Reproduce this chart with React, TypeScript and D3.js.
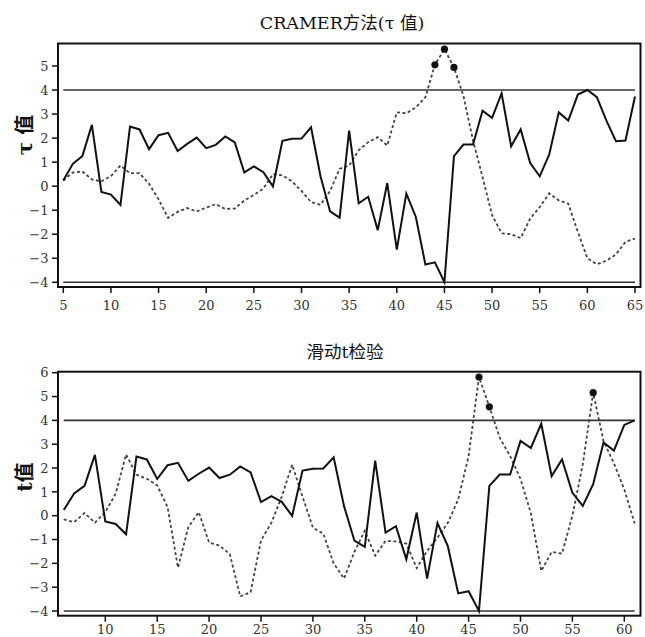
import React from "react";
import * as d3 from "d3";

// ---- data ----
const topYears: number[] = d3.range(5, 66);
const baseSeries: number[] = [
  0.24, 0.93, 1.25, 2.55, -0.24, -0.35, -0.78, 2.48, 2.36, 1.54,
  2.12, 2.22, 1.46, 1.76, 2.02, 1.58, 1.72, 2.07, 1.82, 0.57,
  0.82, 0.58, -0.01, 1.89, 1.97, 1.98, 2.45, 0.4, -1.05, -1.31,
  2.31, -0.71, -0.44, -1.83, 0.13, -2.64, -0.31, -1.28, -3.26, -3.17,
  -4.0, 1.25, 1.73, 1.73, 3.14, 2.84, 3.86, 1.66, 2.36, 0.96,
  0.41, 1.32, 3.07, 2.73, 3.81, 4.0, 3.7, 2.73, 1.87, 1.9, 3.73,
];
const cramerTau: number[] = [
  0.24, 0.57, 0.61, 0.28, 0.2, 0.42, 0.86, 0.54, 0.54, 0.1,
  -0.55, -1.32, -1.07, -0.91, -1.05, -0.89, -0.75, -0.95, -0.93, -0.59,
  -0.37, -0.1, 0.5, 0.45, 0.2, -0.2, -0.66, -0.78, -0.2, 0.72,
  0.86, 1.49, 1.83, 2.04, 1.69, 3.07, 3.03, 3.28, 3.7, 5.05,
  5.7, 4.94, 3.75, 1.9, 0.38, -1.2, -1.96, -2.0, -2.16, -1.35,
  -0.87, -0.3, -0.59, -0.73, -1.9, -3.0, -3.25, -3.1, -2.84, -2.32, -2.18,
];
const bottomYears: number[] = d3.range(6, 62);
const movingT: number[] = [
  -0.16, -0.27, 0.11, -0.29, 0.15, 0.92, 2.57, 1.72, 1.55, 1.27,
  0.36, -2.18, -0.48, 0.15, -1.13, -1.25, -1.62, -3.39, -3.21, -1.04,
  -0.3, 0.8, 2.14, 0.8, -0.5, -0.75, -2.0, -2.64, -1.52, -0.63,
  -1.68, -1.06, -1.08, -1.17, -2.2, -1.48, -0.92, -0.3, 0.68, 2.5,
  5.82, 4.57, 3.27, 2.5, 1.55, 0.1, -2.32, -1.52, -1.59, 0.0,
  2.15, 5.16, 3.13, 2.2, 1.1, -0.33,
];
const bottomBase: number[] = baseSeries.slice(0, bottomYears.length);

const topXTicks = [5, 10, 15, 20, 25, 30, 35, 40, 45, 50, 55, 60, 65];
const topYTicks = [-4, -3, -2, -1, 0, 1, 2, 3, 4, 5];
const bottomXTicks = [10, 15, 20, 25, 30, 35, 40, 45, 50, 55, 60];
const bottomYTicks = [-4, -3, -2, -1, 0, 1, 2, 3, 4, 5, 6];
const critical = [4, -4];

const topTitle = "CRAMER方法(τ 值)";
const topYLabel = "τ 值";
const bottomTitle = "滑动t检验";
const bottomYLabel = "t值";

const NUM_FONT = "'DejaVu Serif', serif";
const CJK_FONT = "'DejaVu Serif', 'Noto Sans CJK SC', serif";

type PanelProps = {
  years: number[];
  solid: number[];
  dashed: number[];
  xDomain: [number, number];
  xRange: [number, number];
  yDomain: [number, number];
  yRange: [number, number];
  frame: { x0: number; x1: number; y0: number; y1: number };
  xTicks: number[];
  yTicks: number[];
  xLabelOffset: number;
  title: string;
  titleX: number;
  titleY: number;
  yLabel: string;
  yLabelY: number;
};

function fmt(v: number) {
  return v < 0 ? "\u2212" + Math.abs(v) : String(v);
}

function Panel(p: PanelProps) {
  const x = d3.scaleLinear().domain(p.xDomain).range(p.xRange);
  const y = d3.scaleLinear().domain(p.yDomain).range(p.yRange);
  const line = d3
    .line<number>()
    .x((_, i) => x(p.years[i]))
    .y((d) => y(d));
  const first = p.years[0];
  const last = p.years[p.years.length - 1];
  const dots = p.dashed
    .map((v, i) => ({ t: p.years[i], v }))
    .filter((d) => d.v > 4);
  const f = p.frame;
  return (
    <g>
      <text
        x={p.titleX}
        y={p.titleY}
        textAnchor="middle"
        fontFamily={CJK_FONT}
        fontSize={17.5}
        fill="#111"
      >
        {p.title}
      </text>
      <text
        transform={`translate(32,${p.yLabelY}) rotate(-90)`}
        textAnchor="middle"
        fontFamily={CJK_FONT}
        fontSize={20}
        fontWeight="bold"
        fill="#111"
      >
        {p.yLabel}
      </text>
      {critical.map((c) => (
        <line
          key={c}
          x1={x(first)}
          x2={x(last)}
          y1={y(c)}
          y2={y(c)}
          stroke="#333"
          strokeWidth={1.6}
        />
      ))}
      <path
        d={line(p.dashed) || ""}
        fill="none"
        stroke="#444"
        strokeWidth={1.8}
        strokeDasharray="3,2.5"
      />
      <path
        d={line(p.solid) || ""}
        fill="none"
        stroke="#111"
        strokeWidth={2}
        strokeLinejoin="miter"
      />
      {dots.map((d) => (
        <circle key={d.t} cx={x(d.t)} cy={y(d.v)} r={3.6} fill="#111" />
      ))}
      <rect
        x={f.x0}
        y={f.y0}
        width={f.x1 - f.x0}
        height={f.y1 - f.y0}
        fill="none"
        stroke="#111"
        strokeWidth={2}
      />
      {p.yTicks.map((t) => (
        <g key={"y" + t}>
          <line x1={f.x0 - 6} x2={f.x0} y1={y(t)} y2={y(t)} stroke="#111" strokeWidth={1.5} />
          <text
            x={f.x0 - 9.5}
            y={y(t)}
            dy="0.36em"
            textAnchor="end"
            fontFamily={NUM_FONT}
            fontSize={13}
            fill="#333"
          >
            {fmt(t)}
          </text>
        </g>
      ))}
      {p.xTicks.map((t) => (
        <g key={"x" + t}>
          <line x1={x(t)} x2={x(t)} y1={f.y1} y2={f.y1 + 6} stroke="#111" strokeWidth={1.5} />
          <text
            x={x(t)}
            y={f.y1 + p.xLabelOffset}
            textAnchor="middle"
            fontFamily={NUM_FONT}
            fontSize={13}
            fill="#333"
          >
            {fmt(t)}
          </text>
        </g>
      ))}
    </g>
  );
}

export default function App() {
  return (
    <svg
      width={645}
      height={637}
      style={{ position: "absolute", left: 0, top: 0, background: "#fff" }}
    >
      <rect x={0} y={0} width={645} height={637} fill="#fff" />
      <Panel
        years={topYears}
        solid={baseSeries}
        dashed={cramerTau}
        xDomain={[5, 65]}
        xRange={[63.3, 635]}
        yDomain={[-4, 5]}
        yRange={[282.3, 66]}
        frame={{ x0: 58, x1: 640.5, y0: 43.5, y1: 287 }}
        xTicks={topXTicks}
        yTicks={topYTicks}
        xLabelOffset={22.5}
        title={topTitle}
        titleX={342}
        titleY={29}
        yLabel={topYLabel}
        yLabelY={135}
      />
      <Panel
        years={bottomYears}
        solid={bottomBase}
        dashed={movingT}
        xDomain={[10, 60]}
        xRange={[105.3, 624.3]}
        yDomain={[-4, 6]}
        yRange={[611, 372.7]}
        frame={{ x0: 58, x1: 640.5, y0: 371.7, y1: 615.7 }}
        xTicks={bottomXTicks}
        yTicks={bottomYTicks}
        xLabelOffset={18.5}
        title={bottomTitle}
        titleX={345}
        titleY={358}
        yLabel={bottomYLabel}
        yLabelY={477}
      />
    </svg>
  );
}
